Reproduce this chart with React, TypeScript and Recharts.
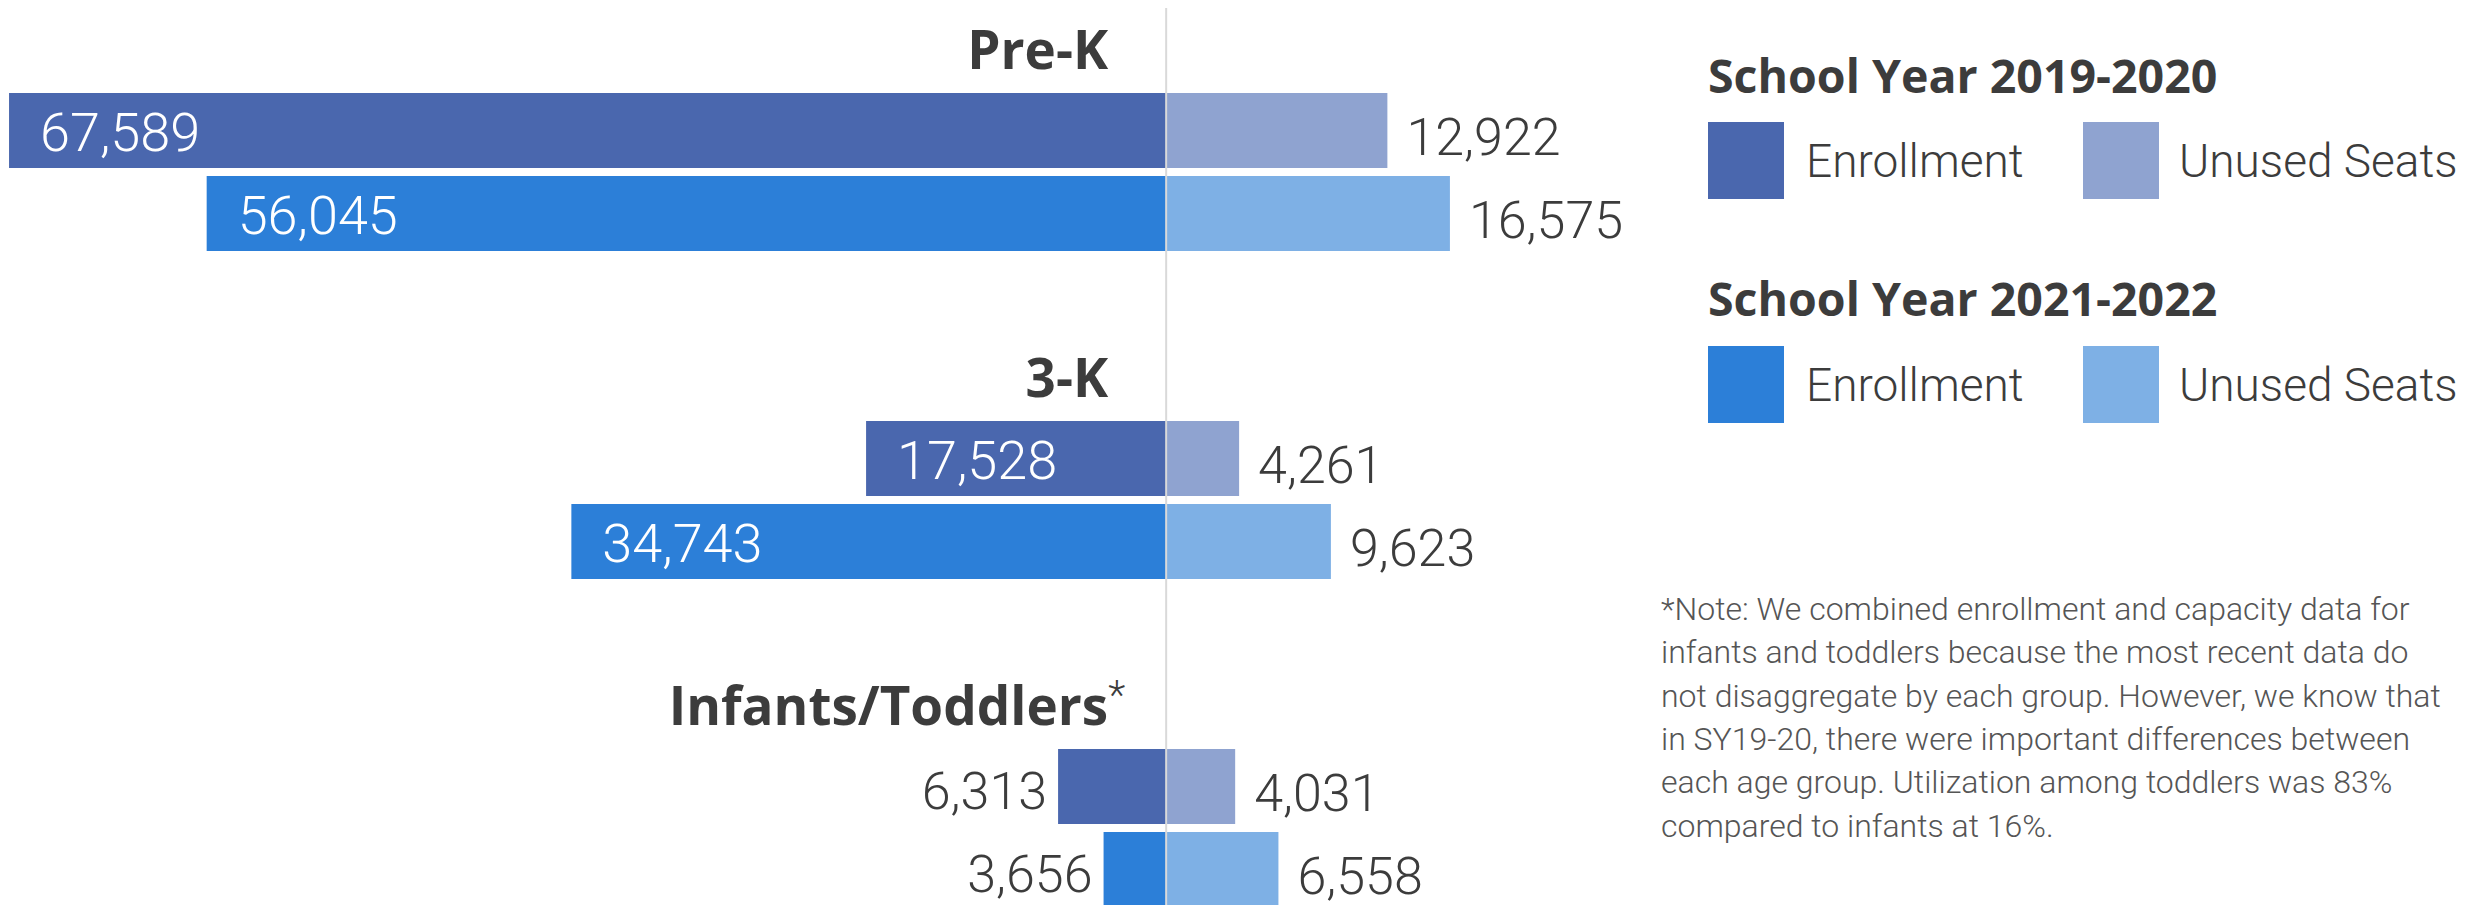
import { Bar, BarChart, LabelList, ReferenceLine, XAxis, YAxis } from "recharts";

// age groups, top to bottom; trailing * marks the footnote
const groups = ["Pre-K", "3-K", "Infants/Toddlers*"];
const enrollment1920 = [67589, 17528, 6313];
const unused1920 = [12922, 4261, 4031];
const enrollment2122 = [56045, 34743, 3656];
const unused2122 = [16575, 9623, 6558];

const xDomain = [-68000, 32000];
const yearTitles = ["School Year 2019-2020", "School Year 2021-2022"];
const seriesNames = ["Enrollment", "Unused Seats"];
const noteLines = [
  "*Note: We combined enrollment and capacity data for",
  "infants and toddlers because the most recent data do",
  "not disaggregate by each group. However, we know that",
  "in SY19-20, there were important differences between",
  "each age group. Utilization among toddlers was 83%",
  "compared to infants at 16%.",
];

const COLORS = {
  enroll1920: "#4a67ae",
  unused1920: "#8fa3d0",
  enroll2122: "#2c7fd8",
  unused2122: "#7eb0e5",
};
const TEXT = "#3c3c3c";
const NOTE = "#555555";
const NUM_FONT = "Roboto, 'Open Sans', sans-serif";
const HEAD_FONT = "'Open Sans', Roboto, sans-serif";

const data = groups.map((group, i) => ({
  group,
  enroll1920: -enrollment1920[i],
  unused1920: unused1920[i],
  enroll2122: -enrollment2122[i],
  unused2122: unused2122[i],
}));

const box = (props: any) => {
  const vb = props.viewBox ?? {};
  const x = Number(props.x ?? vb.x ?? 0);
  const y = Number(props.y ?? vb.y ?? 0);
  const w = Number(props.width ?? vb.width ?? 0);
  const h = Number(props.height ?? vb.height ?? 0);
  return {
    left: Math.min(x, x + w),
    right: Math.max(x, x + w),
    top: Math.min(y, y + h),
    mid: y + h / 2,
    w: Math.abs(w),
  };
};

const fmt = (v: any) => Math.abs(Number(v)).toLocaleString("en-US");

const EnrollLabel = (props: any) => {
  const b = box(props);
  const text = fmt(props.value);
  if (b.w > 200) {
    return (
      <text x={b.left + 31} y={b.mid + 20} fill="#ffffff" fontSize={54} fontWeight={300} fontFamily={NUM_FONT}>
        {text}
      </text>
    );
  }
  return (
    <text x={b.left - 11} y={b.mid + 22} textAnchor="end" fill={TEXT} fontSize={52} fontWeight={300} fontFamily={NUM_FONT}>
      {text}
    </text>
  );
};

const UnusedLabel = (props: any) => {
  const b = box(props);
  return (
    <text x={b.right + 19} y={b.mid + 24} fill={TEXT} fontSize={52} fontWeight={300} fontFamily={NUM_FONT}>
      {fmt(props.value)}
    </text>
  );
};

const GroupLabel = (props: any) => {
  const b = box(props);
  const raw = String(props.value ?? "");
  const star = raw.endsWith("*");
  const name = star ? raw.slice(0, -1) : raw;
  return (
    <g>
      <text x={b.right - 58} y={b.top - 24} textAnchor="end" fill={TEXT} fontSize={53} fontWeight={700} fontFamily={HEAD_FONT}>
        {name}
      </text>
      {star && (
        <text x={b.right - 58} y={b.top - 40} fill={TEXT} fontSize={40} fontWeight={300} fontFamily={NUM_FONT}>
          *
        </text>
      )}
    </g>
  );
};

function LegendAndNote() {
  const rows = [
    { title: yearTitles[0], keys: ["enroll1920", "unused1920"], titleY: 93, boxY: 122 },
    { title: yearTitles[1], keys: ["enroll2122", "unused2122"], titleY: 316, boxY: 346 },
  ];
  return (
    <svg width={2473} height={905} style={{ position: "absolute", left: 0, top: 0, pointerEvents: "none" }}>
      {rows.map((r) => (
        <g key={r.title}>
          <text x={1708} y={r.titleY} fill={TEXT} fontSize={46.5} fontWeight={700} fontFamily={HEAD_FONT}>
            {r.title}
          </text>
          {r.keys.map((k, j) => (
            <g key={k}>
              <rect x={1708 + j * 375} y={r.boxY} width={76} height={77} fill={(COLORS as any)[k]} />
              <text x={1806 + j * 373} y={r.boxY + 55} fill={TEXT} fontSize={46} fontWeight={300} fontFamily={NUM_FONT}>
                {seriesNames[j]}
              </text>
            </g>
          ))}
        </g>
      ))}
      {noteLines.map((line, i) => (
        <text key={i} x={1661} y={620 + i * 43.3} fill={NOTE} fontSize={32} fontWeight={300} fontFamily={NUM_FONT}>
          {line}
        </text>
      ))}
    </svg>
  );
}

export default function App() {
  return (
    <div style={{ position: "absolute", left: 0, top: 0, width: 2473, height: 905, overflow: "hidden", background: "#fff" }}>
      <BarChart
        width={2473}
        height={1000}
        data={data}
        layout="vertical"
        stackOffset="sign"
        barSize={75}
        barGap={8}
        margin={{ top: 8, right: 759, bottom: 8, left: 2 }}
        style={{ position: "absolute", left: 0, top: 0 }}
      >
        <XAxis type="number" domain={xDomain} hide allowDataOverflow />
        <YAxis type="category" dataKey="group" hide />
        <ReferenceLine x={0} stroke="#d9d9d9" strokeWidth={2} />
        <Bar dataKey="enroll1920" stackId="y1920" fill={COLORS.enroll1920} isAnimationActive={false}>
          <LabelList dataKey="enroll1920" content={EnrollLabel} />
          <LabelList dataKey="group" content={GroupLabel} />
        </Bar>
        <Bar dataKey="unused1920" stackId="y1920" fill={COLORS.unused1920} isAnimationActive={false}>
          <LabelList dataKey="unused1920" content={UnusedLabel} />
        </Bar>
        <Bar dataKey="enroll2122" stackId="y2122" fill={COLORS.enroll2122} isAnimationActive={false}>
          <LabelList dataKey="enroll2122" content={EnrollLabel} />
        </Bar>
        <Bar dataKey="unused2122" stackId="y2122" fill={COLORS.unused2122} isAnimationActive={false}>
          <LabelList dataKey="unused2122" content={UnusedLabel} />
        </Bar>
      </BarChart>
      <LegendAndNote />
    </div>
  );
}
